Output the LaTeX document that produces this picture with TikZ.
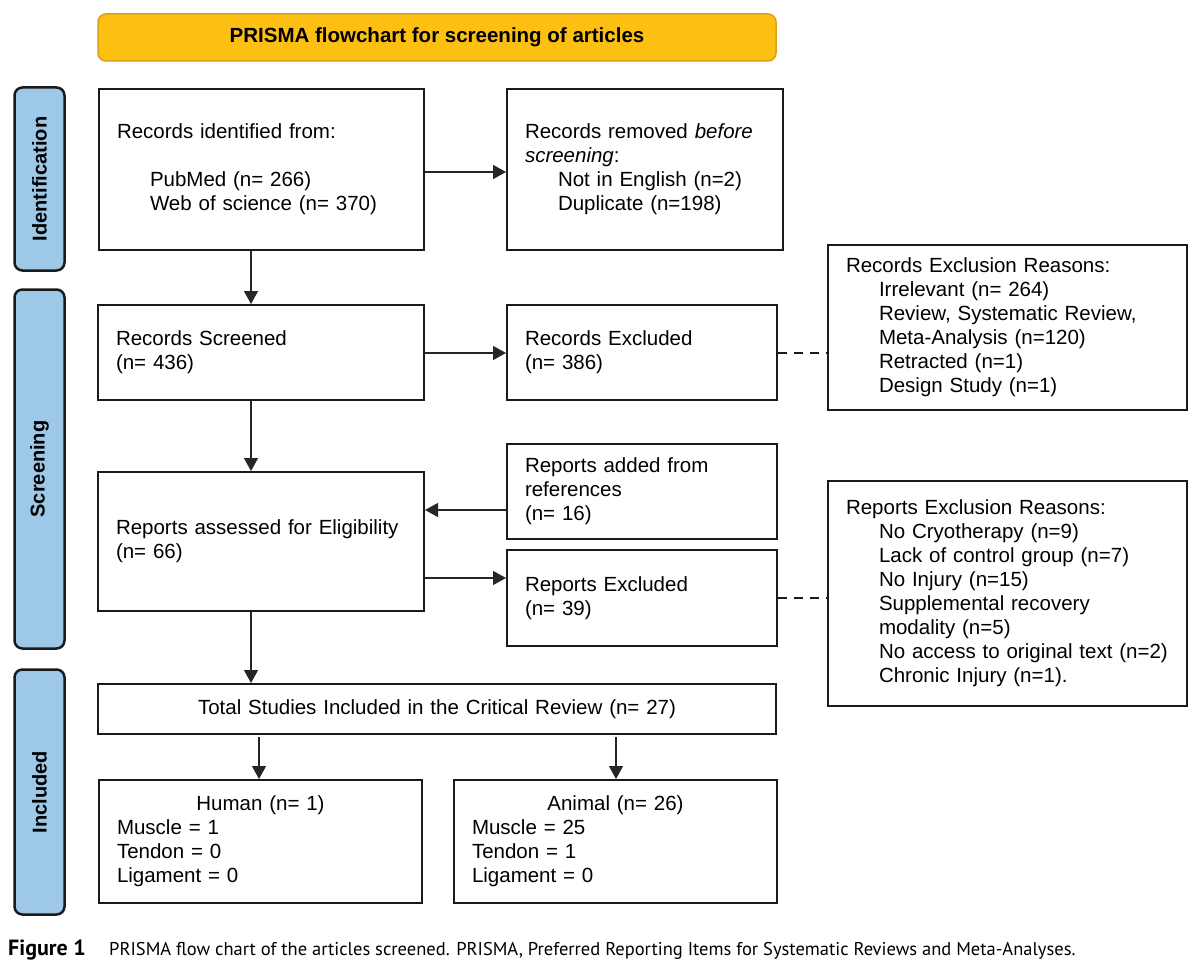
\documentclass[tikz,border=0pt]{standalone}
\usepackage{fontspec}
\setmainfont{Liberation Sans}
\newfontfamily\capfont{PT Sans}
\usetikzlibrary{arrows.meta}
\definecolor{gold}{HTML}{FCBF12}
\definecolor{goldedge}{HTML}{DDA015}
\definecolor{barblue}{HTML}{9DC8E8}
\definecolor{edge}{HTML}{1A1A1A}
\newcommand\fbx[7][]{%
  \pgfmathsetmacro\tw{#5-#3-38}%
  \pgfmathsetmacro\bw{#5-#3-2}%
  \pgfmathsetmacro\bh{#6-#4-2}%
  \node[box, text width=\tw pt, minimum width=\bw pt, minimum height=\bh pt, #1] (#2) at ({(#3+#5)/2},{(#4+#6)/2}) {#7};}
\newcommand\ind{\hspace*{33pt}}
\begin{document}
\begin{tikzpicture}[x=1pt,y=-1pt,
  box/.style={draw=edge, line width=2pt, inner xsep=18pt, inner ysep=0pt, align=left,
    font=\fontsize{20.5}{24}\selectfont},
  bar/.style={draw=edge, line width=2.5pt, fill=barblue, rounded corners=8pt,
    font=\fontsize{20}{24}\selectfont\bfseries, inner sep=0pt},
  arr/.style={draw=black!85, line width=1.3pt, -{Triangle[width=14pt,length=13pt]}},
  dsh/.style={draw=edge, line width=2pt, dash pattern=on 9pt off 7pt}]
\useasboundingbox (0,0) rectangle (1200,963);
\fill[white] (0,0) rectangle (1200,963);

% title
\node[draw=goldedge, line width=1.5pt, fill=gold, rounded corners=8pt,
  minimum width=678pt, minimum height=47pt, inner sep=0pt,
  font=\fontsize{20.5}{24}\selectfont\bfseries] (title) at (437,37.5)
  {PRISMA flowchart for screening of articles};

% side bars
\node[bar, rotate=90, minimum width=183pt, minimum height=50pt] (idbar) at (39.5,179) {Identification};
\node[bar, rotate=90, minimum width=359pt, minimum height=50pt] (scbar) at (39.5,469) {Screening};
\node[bar, rotate=90, minimum width=245pt, minimum height=50pt] (inbar) at (39.5,792) {Included};

% boxes
\fbx{ident}{98}{88}{425}{251}{Records identified from:\\[24pt]\ind PubMed (n= 266)\\\ind Web of science (n= 370)}
\fbx{removed}{506}{88}{784}{251}{Records removed \textit{before}\\\textit{screening}:\\\ind Not in English (n=2)\\\ind Duplicate (n=198)}
\fbx{screened}{97}{304}{425}{401}{Records Screened\\(n= 436)}
\fbx{recexcl}{506}{304}{778}{401}{Records Excluded\\(n= 386)}
\fbx{recreasons}{827}{244}{1188}{411}{Records Exclusion Reasons:\\\ind Irrelevant (n= 264)\\\ind Review, Systematic Review,\\\ind Meta-Analysis (n=120)\\\ind Retracted (n=1)\\\ind Design Study (n=1)}
\fbx{assessed}{97}{471}{425}{612}{Reports assessed for Eligibility\\(n= 66)}
\fbx{added}{506}{443}{778}{540}{Reports added from\\references\\(n= 16)}
\fbx{repexcl}{506}{549}{778}{647}{Reports Excluded\\(n= 39)}
\fbx{repreasons}{827}{480}{1188}{707}{Reports Exclusion Reasons:\\\ind No Cryotherapy (n=9)\\\ind Lack of control group (n=7)\\\ind No Injury (n=15)\\\ind Supplemental recovery\\\ind modality (n=5)\\\ind No access to original text (n=2)\\\ind Chronic Injury (n=1).}
\fbx[align=center]{total}{97}{683}{777}{735}{Total Studies Included in the Critical Review (n= 27)}
\fbx{human}{98}{779}{423}{904}{\makebox[\linewidth]{Human (n= 1)}\\Muscle = 1\\Tendon = 0\\Ligament = 0}
\fbx{animal}{453}{779}{778}{904}{\makebox[\linewidth]{Animal (n= 26)}\\Muscle = 25\\Tendon = 1\\Ligament = 0\\[6pt]}

% connectors
\draw[arr] (ident.east |- 0,172) -- (removed.west |- 0,172);
\draw[arr] (ident.south -| 251,0) -- (screened.north -| 251,0);
\draw[arr] (screened.east |- 0,353) -- (recexcl.west |- 0,353);
\draw[dsh] (recexcl.east |- 0,353) -- (recreasons.west |- 0,353);
\draw[arr] (screened.south -| 251,0) -- (assessed.north -| 251,0);
\draw[arr] (added.west |- 0,510) -- (assessed.east |- 0,510);
\draw[arr] (assessed.east |- 0,578) -- (repexcl.west |- 0,578);
\draw[dsh] (repexcl.east |- 0,598) -- (repreasons.west |- 0,598);
\draw[arr] (assessed.south -| 251,0) -- (total.north -| 251,0);
\coordinate (hs) at (259,737);
\coordinate (as) at (616,737);
\draw[arr] (hs) -- (human.north -| hs);
\draw[arr] (as) -- (animal.north -| as);

% caption
\node[anchor=base west, inner sep=0pt, font=\capfont\fontsize{18.5}{22}\selectfont] (cap) at (8,955)
  {\makebox[101pt][l]{\fontsize{22}{24}\selectfont\bfseries Figure 1}PRISMA flow chart of the articles screened. PRISMA, Preferred Reporting Items for Systematic Reviews and Meta-Analyses.};
\end{tikzpicture}
\end{document}
